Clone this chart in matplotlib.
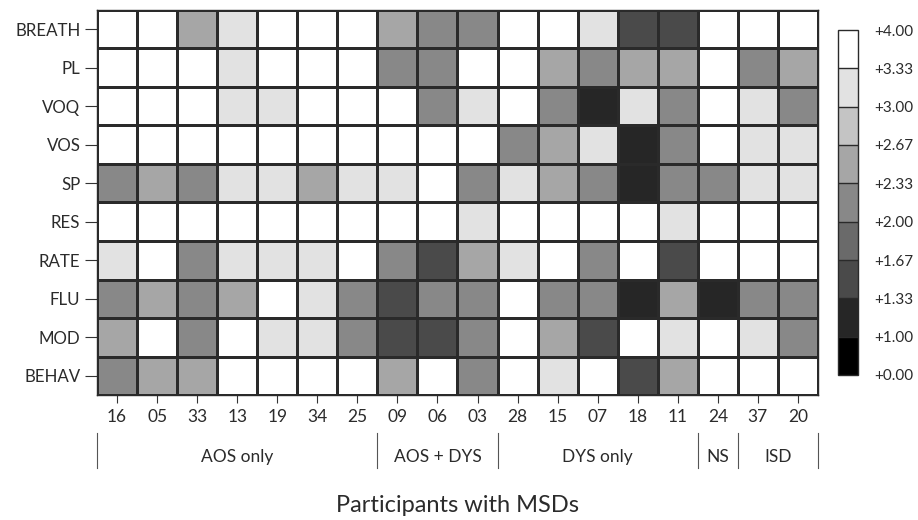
import matplotlib

matplotlib.use('Agg')

import matplotlib.pyplot as plt
import numpy as np
from matplotlib.colors import BoundaryNorm, ListedColormap
from matplotlib.transforms import blended_transform_factory


plt.rcParams['font.family'] = ['Lato', 'DejaVu Sans']
plt.rcParams['text.color'] = '#2b2b2b'

PARTICIPANTS = ['16', '05', '33', '13', '19', '34', '25', '09', '06', '03',
                '28', '15', '07', '18', '11', '24', '37', '20']
FEATURES = ['BREATH', 'PL', 'VOQ', 'VOS', 'SP', 'RES', 'RATE', 'FLU',
            'MOD', 'BEHAV']
GROUPS = ['AOS only', 'AOS + DYS', 'DYS only', 'NS', 'ISD']
GROUP_SIZES = [7, 3, 5, 1, 2]

BOUNDS = [0.0, 1.0, 1.33, 1.67, 2.0, 2.33, 2.67, 3.0, 3.33, 4.0]
GRAYS = ['#000000', '#262626', '#4a4a4a', '#6a6a6a', '#888888',
         '#a6a6a6', '#c4c4c4', '#e2e2e2', '#ffffff']

# mean ratings per feature (rows) x participant (columns)
BREATH = [4.0, 4.0, 2.5, 3.2, 4.0, 4.0, 4.0, 2.5, 2.2, 2.2,
          4.0, 4.0, 3.2, 1.5, 1.5, 4.0, 4.0, 4.0]
PL = [4.0, 4.0, 4.0, 3.2, 4.0, 4.0, 4.0, 2.2, 2.2, 4.0,
      4.0, 2.5, 2.2, 2.5, 2.5, 4.0, 2.2, 2.5]
VOQ = [4.0, 4.0, 4.0, 3.2, 3.2, 4.0, 4.0, 4.0, 2.2, 3.2,
       4.0, 2.2, 1.2, 3.2, 2.2, 4.0, 3.2, 2.2]
VOS = [4.0, 4.0, 4.0, 4.0, 4.0, 4.0, 4.0, 4.0, 4.0, 4.0,
       2.2, 2.5, 3.2, 1.2, 2.2, 4.0, 3.2, 3.2]
SP = [2.2, 2.5, 2.2, 3.2, 3.2, 2.5, 3.2, 3.2, 4.0, 2.2,
      3.2, 2.5, 2.2, 1.2, 2.2, 2.2, 3.2, 3.2]
RES = [4.0, 4.0, 4.0, 4.0, 4.0, 4.0, 4.0, 4.0, 4.0, 3.2,
       4.0, 4.0, 4.0, 4.0, 3.2, 4.0, 4.0, 4.0]
RATE = [3.2, 4.0, 2.2, 3.2, 3.2, 3.2, 4.0, 2.2, 1.5, 2.5,
        3.2, 4.0, 2.2, 4.0, 1.5, 4.0, 4.0, 4.0]
FLU = [2.2, 2.5, 2.2, 2.5, 4.0, 3.2, 2.2, 1.5, 2.2, 2.2,
       4.0, 2.2, 2.2, 1.2, 2.5, 1.2, 2.2, 2.2]
MOD = [2.5, 4.0, 2.2, 4.0, 3.2, 3.2, 2.2, 1.5, 1.5, 2.2,
       4.0, 2.5, 1.5, 4.0, 3.2, 4.0, 3.2, 2.2]
BEHAV = [2.2, 2.5, 2.5, 4.0, 4.0, 4.0, 4.0, 2.5, 4.0, 2.2,
         4.0, 3.2, 4.0, 1.5, 2.5, 4.0, 4.0, 4.0]


def main():
    scores = np.array([BREATH, PL, VOQ, VOS, SP, RES, RATE, FLU, MOD, BEHAV])

    cmap = ListedColormap(GRAYS)
    cmap.set_over(GRAYS[-1])
    norm = BoundaryNorm(BOUNDS, cmap.N)

    fig = plt.figure(figsize=(9.18, 5.2), dpi=100)
    W, H = 918, 520
    ax = fig.add_axes([97 / W, (H - 395) / H, (818 - 97) / W, (395 - 10) / H])
    cax = fig.add_axes([838 / W, (H - 375) / H, 20 / W, (375 - 30) / H])

    mesh = ax.pcolormesh(scores, cmap=cmap, norm=norm,
                         edgecolors='#2a2a2a', linewidth=1.0)
    ax.set_xlim(0, len(PARTICIPANTS))
    ax.set_ylim(len(FEATURES), 0)

    ax.set_xticks(np.arange(len(PARTICIPANTS)) + 0.5)
    ax.set_xticklabels(PARTICIPANTS, fontsize=12.5)
    ax.set_yticks(np.arange(len(FEATURES)) + 0.5)
    ax.set_yticklabels(FEATURES, fontsize=12.2)
    ax.tick_params(axis='x', length=6, width=0.8, pad=4, colors='#333333',
                   labelcolor='#2b2b2b')
    ax.tick_params(axis='y', length=9, width=0.8, pad=3, colors='#333333',
                   labelcolor='#2b2b2b')
    for spine in ax.spines.values():
        spine.set_color('#2a2a2a')
        spine.set_linewidth(1.0)

    # group brackets under the participant ids
    trans = blended_transform_factory(ax.transData, ax.transAxes)
    edges = np.concatenate([[0], np.cumsum(GROUP_SIZES)])
    for x in edges:
        ax.plot([x, x], [-0.099, -0.19], color='#555555', linewidth=0.8,
                transform=trans, clip_on=False)
    for name, left, right in zip(GROUPS, edges[:-1], edges[1:]):
        ax.text((left + right) / 2, -0.162, name, transform=trans,
                ha='center', va='center', fontsize=12.5)

    ax.text(0.5, -0.288, 'Participants with MSDs', transform=ax.transAxes,
            ha='center', va='center', fontsize=17)

    cbar = fig.colorbar(mesh, cax=cax, boundaries=BOUNDS, ticks=BOUNDS,
                        spacing='uniform', drawedges=True)
    cbar.ax.set_yticklabels([f'{b:+.2f}' for b in BOUNDS], fontsize=11,
                            color='#2b2b2b')
    cbar.ax.tick_params(length=0, pad=11.5)
    cbar.outline.set_edgecolor('#2a2a2a')
    cbar.outline.set_linewidth(1.0)
    cbar.dividers.set_color('#2a2a2a')
    cbar.dividers.set_linewidth(1.0)

    fig.savefig('out.png', dpi=100)
    plt.close(fig)


if __name__ == '__main__':
    main()
